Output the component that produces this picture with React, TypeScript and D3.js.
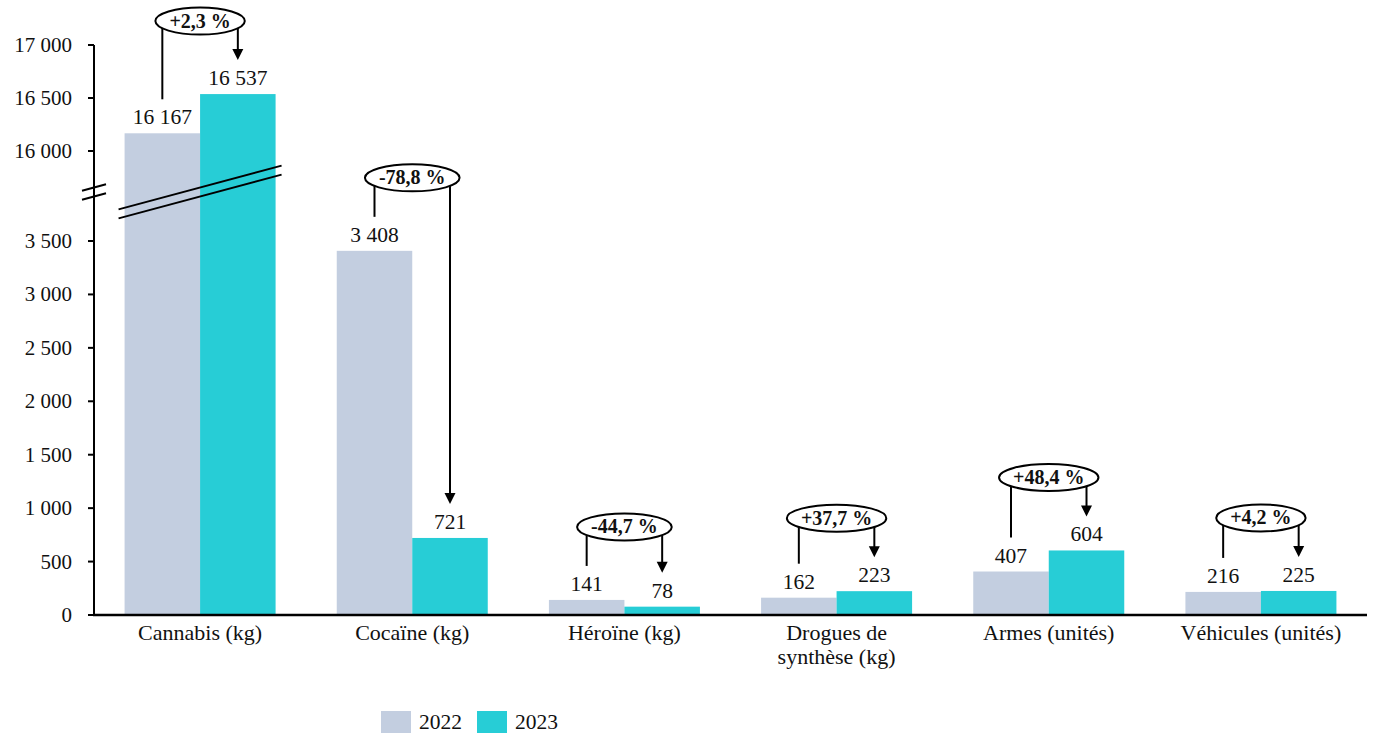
import React, { useEffect, useRef } from "react";
import * as d3 from "d3";

const categories = ["Cannabis (kg)", "Cocaïne (kg)", "Héroïne (kg)", "Drogues de|synthèse (kg)", "Armes (unités)", "Véhicules (unités)"];
const values2022 = [16167, 3408, 141, 162, 407, 216];
const values2023 = [16537, 721, 78, 223, 604, 225];
const valueLabels2022 = ["16 167", "3 408", "141", "162", "407", "216"];
const valueLabels2023 = ["16 537", "721", "78", "223", "604", "225"];
const changes = ["+2,3 %", "-78,8 %", "-44,7 %", "+37,7 %", "+48,4 %", "+4,2 %"];
const lowTicks = [0, 500, 1000, 1500, 2000, 2500, 3000, 3500];
const highTicks = [16000, 16500, 17000];
const tickLabels: Record<number, string> = {
  0: "0", 500: "500", 1000: "1 000", 1500: "1 500", 2000: "2 000", 2500: "2 500",
  3000: "3 000", 3500: "3 500", 16000: "16 000", 16500: "16 500", 17000: "17 000",
};
const seriesNames = ["2022", "2023"];
const colors = ["#C3CEE0", "#27CDD6"];

const W = 1380, H = 748;
const FONT = "'Liberation Serif', 'Times New Roman', serif";

export default function App() {
  const ref = useRef<SVGSVGElement>(null);
  useEffect(() => {
    const svg = d3.select(ref.current);
    svg.selectAll("*").remove();

    const y = d3.scaleLinear().domain([0, 3500, 16000, 17000]).range([615, 241, 151, 45]);
    const x0 = d3.scaleBand().domain(categories).range([94, 1367]).padding(0);
    const x1 = d3.scaleBand().domain(seriesNames).range([0, x0.bandwidth()]).paddingInner(0).paddingOuter(0.405);

    const data = categories.map((c, i) => ({ c, i, v: [values2022[i], values2023[i]] }));

    // bars
    const g = svg.append("g");
    data.forEach((d) => {
      seriesNames.forEach((s, k) => {
        g.append("rect")
          .attr("x", x0(d.c)! + x1(s)!)
          .attr("y", y(d.v[k]))
          .attr("width", x1.bandwidth())
          .attr("height", y(0) - y(d.v[k]))
          .attr("fill", colors[k]);
      });
    });

    // break lines over first group
    const brkMid = (y(3500) + y(16000)) / 2 - 4;
    const gx0 = x0(categories[0])! + x1(seriesNames[0])! - 6;
    const gx1 = x0(categories[0])! + x1(seriesNames[1])! + x1.bandwidth() + 6;
    const gc = (gx0 + gx1) / 2;
    const slope = -0.268;
    [-4.5, 4.5].forEach((off) => {
      svg.append("line")
        .attr("x1", gx0).attr("y1", brkMid + off - slope * (gc - gx0))
        .attr("x2", gx1).attr("y2", brkMid + off + slope * (gx1 - gc))
        .attr("stroke", "#000").attr("stroke-width", 2);
    });

    // axes
    const axX = 94;
    svg.append("line").attr("x1", axX).attr("x2", axX).attr("y1", y(17000)).attr("y2", y(0) + 1)
      .attr("stroke", "#000").attr("stroke-width", 2);
    svg.append("line").attr("x1", axX - 1).attr("x2", 1367).attr("y1", y(0)).attr("y2", y(0))
      .attr("stroke", "#000").attr("stroke-width", 2.5);
    [...lowTicks, ...highTicks].forEach((t) => {
      svg.append("line").attr("x1", axX - 6).attr("x2", axX).attr("y1", y(t)).attr("y2", y(t))
        .attr("stroke", "#000").attr("stroke-width", 2);
      svg.append("text").attr("x", 72).attr("y", y(t) + 7).attr("text-anchor", "end")
        .attr("font-family", FONT).attr("font-size", 21).attr("fill", "#111").text(tickLabels[t]);
    });
    // axis break marks
    [-4.5, 4.5].forEach((off) => {
      svg.append("line")
        .attr("x1", axX - 12).attr("y1", brkMid + off + 12 * 0.268)
        .attr("x2", axX + 12).attr("y2", brkMid + off - 12 * 0.268)
        .attr("stroke", "#000").attr("stroke-width", 2);
    });

    // category labels
    data.forEach((d) => {
      const cx = x0(d.c)! + x0.bandwidth() / 2;
      const lines = d.c.split("|");
      const t = svg.append("text").attr("x", cx).attr("y", 640).attr("text-anchor", "middle")
        .attr("font-family", FONT).attr("font-size", 22).attr("fill", "#111");
      lines.forEach((l, li) => {
        t.append("tspan").attr("x", cx).attr("dy", li === 0 ? 0 : 24).text(l);
      });
    });

    // value labels + annotations
    data.forEach((d) => {
      const cx = x0(d.c)! + x0.bandwidth() / 2;
      const bx = seriesNames.map((s) => x0(d.c)! + x1(s)! + x1.bandwidth() / 2);
      const labs = [valueLabels2022[d.i], valueLabels2023[d.i]];
      seriesNames.forEach((s, k) => {
        svg.append("text").attr("x", bx[k]).attr("y", y(d.v[k]) - 9).attr("text-anchor", "middle")
          .attr("font-family", FONT).attr("font-size", 21.5).attr("fill", "#111").text(labs[k]);
      });
      const top = Math.min(y(d.v[0]), y(d.v[1]));
      const oy = top - 73;
      const leftEnd = y(d.v[0]) - 34;
      const tip = y(d.v[1]) - 34;
      svg.append("line").attr("x1", bx[0]).attr("x2", bx[0]).attr("y1", leftEnd).attr("y2", oy)
        .attr("stroke", "#000").attr("stroke-width", 2);
      svg.append("line").attr("x1", bx[1]).attr("x2", bx[1]).attr("y1", oy).attr("y2", tip - 10)
        .attr("stroke", "#000").attr("stroke-width", 2);
      svg.append("path")
        .attr("d", `M${bx[1] - 5.5},${tip - 11} L${bx[1] + 5.5},${tip - 11} L${bx[1]},${tip} Z`)
        .attr("fill", "#000");
      const ell = svg.append("ellipse").attr("cx", cx).attr("cy", oy).attr("ry", 13.5)
        .attr("fill", "#fff").attr("stroke", "#000").attr("stroke-width", 2);
      const txt = svg.append("text").attr("x", cx).attr("y", oy + 6.5).attr("text-anchor", "middle")
        .attr("font-family", FONT).attr("font-size", 20).attr("font-weight", "bold").attr("fill", "#111")
        .text(changes[d.i]);
      const w = (txt.node() as SVGTextElement).getComputedTextLength();
      ell.attr("rx", w / 2 + 14);
    });

    // legend
    const lg = svg.append("g");
    const legX = [381, 477];
    seriesNames.forEach((s, k) => {
      lg.append("rect").attr("x", legX[k]).attr("y", 711).attr("width", 30).attr("height", 22).attr("fill", colors[k]);
      lg.append("text").attr("x", legX[k] + 38).attr("y", 729).attr("font-family", FONT).attr("font-size", 21.5)
        .attr("fill", "#111").text(s);
    });
  }, []);
  return (
    <svg ref={ref} width={W} height={H} style={{ position: "absolute", left: 0, top: 0, background: "#fff" }} />
  );
}
